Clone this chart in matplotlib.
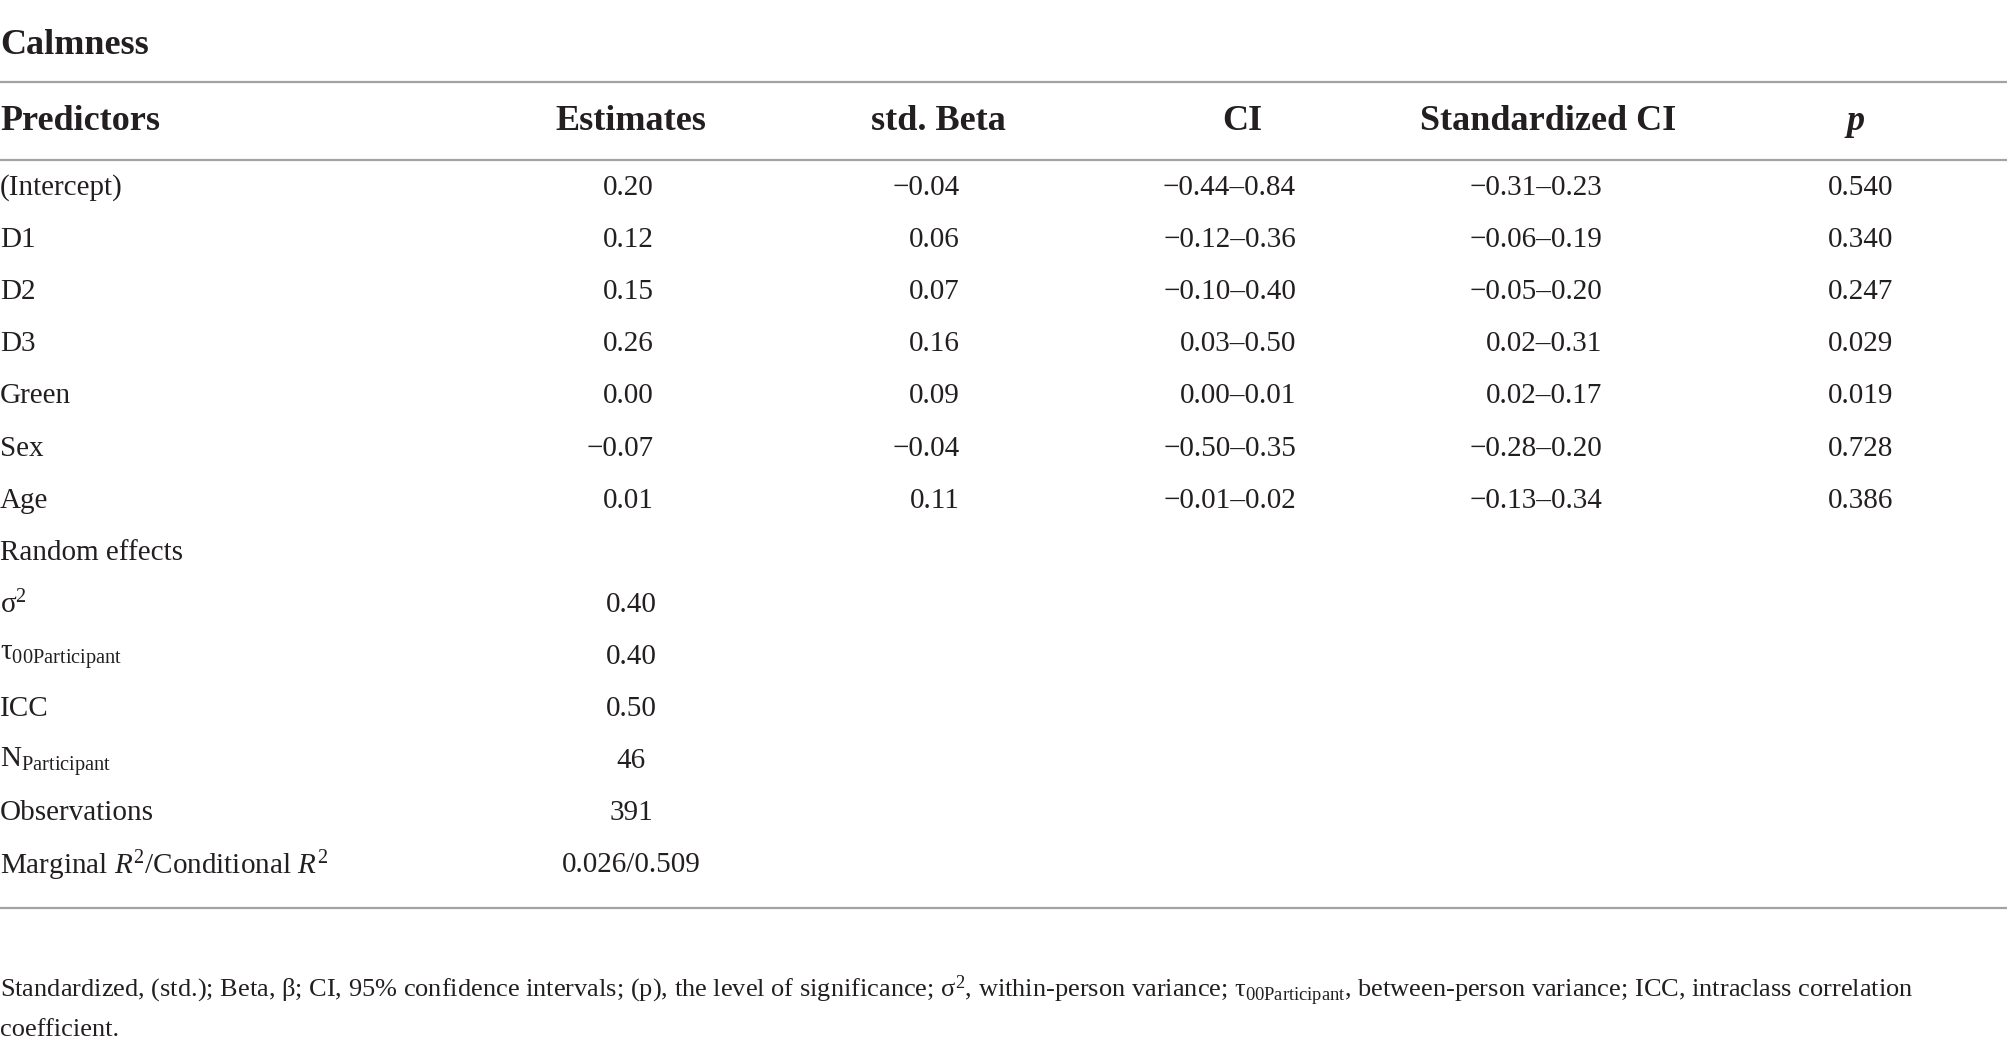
import matplotlib
matplotlib.use('Agg')
import matplotlib.pyplot as plt

plt.rcParams['font.family'] = ['Liberation Serif', 'DejaVu Serif']
plt.rcParams['mathtext.fontset'] = 'custom'
plt.rcParams['mathtext.rm'] = 'Liberation Serif'
plt.rcParams['mathtext.it'] = 'Liberation Serif:italic'
plt.rcParams['mathtext.bf'] = 'Liberation Serif:bold'

W, H = 2008, 1048
TXT = '#231f20'
RULE = '#a3a3a3'

title = 'Calmness'
headers = ['Predictors', 'Estimates', 'std. Beta', 'CI', 'Standardized CI', 'p']

predictors = ['(Intercept)', 'D1', 'D2', 'D3', 'Green', 'Sex', 'Age']
estimates = ['0.20', '0.12', '0.15', '0.26', '0.00', '\u22120.07', '0.01']
std_beta = ['\u22120.04', '0.06', '0.07', '0.16', '0.09', '\u22120.04', '0.11']
ci = ['\u22120.44\u20130.84', '\u22120.12\u20130.36', '\u22120.10\u20130.40', '0.03\u20130.50',
      '0.00\u20130.01', '\u22120.50\u20130.35', '\u22120.01\u20130.02']
std_ci = ['\u22120.31\u20130.23', '\u22120.06\u20130.19', '\u22120.05\u20130.20', '0.02\u20130.31',
          '0.02\u20130.17', '\u22120.28\u20130.20', '\u22120.13\u20130.34']
p_vals = ['0.540', '0.340', '0.247', '0.029', '0.019', '0.728', '0.386']

random_labels = ['Random effects', '$\\mathrm{\u03c3}^{2}$', '$\\mathrm{\u03c4}_{\\mathrm{00Participant}}$', 'ICC',
                 '$\\mathrm{N}_{\\mathrm{Participant}}$', 'Observations',
                 'Marginal $\\mathit{R}^{2}$/Conditional $\\mathit{R}^{2}$']
random_values = ['', '0.40', '0.40', '0.50', '46', '391', '0.026/0.509']

footnote = ['Standardized, (std.); Beta, \u03b2; CI, 95% confidence intervals; (p), the level of significance; '
            '$\\mathrm{\u03c3}^{2}$, within-person variance; $\\mathrm{\u03c4}_{\\mathrm{00Participant}}$, '
            'between-person variance; ICC, intraclass correlation',
            'coefficient.']

fig = plt.figure(figsize=(W / 100, H / 100), dpi=100)
ax = fig.add_axes([0, 0, 1, 1])
ax.set_xlim(0, W)
ax.set_ylim(H, 0)
ax.axis('off')

BODY = 21
BOLD = 26

ax.text(0, 45, title, fontsize=BOLD, fontweight='bold', color=TXT, va='center', ha='left')

for yy in [82, 160, 908]:
    ax.axhline(yy, color=RULE, lw=1.6)

# header row: (x, ha)
head_pos = [(0, 'left'), (631, 'center'), (938, 'center'), (1242, 'center'), (1548, 'center'), (1856, 'center')]
for (hx, ha), h in zip(head_pos, headers):
    style = 'italic' if h == 'p' else 'normal'
    ax.text(hx, 122, h, fontsize=BOLD, fontweight='bold', fontstyle=style,
            color=TXT, va='center', ha=ha)

row0, step = 188, 52.1
for i, name in enumerate(predictors):
    y = row0 + i * step
    ax.text(0, y, name, fontsize=BODY, color=TXT, va='center', ha='left')
    ax.text(654, y, estimates[i], fontsize=BODY, color=TXT, va='center', ha='right')
    ax.text(960, y, std_beta[i], fontsize=BODY, color=TXT, va='center', ha='right')
    ax.text(1296, y, ci[i], fontsize=BODY, color=TXT, va='center', ha='right')
    ax.text(1602, y, std_ci[i], fontsize=BODY, color=TXT, va='center', ha='right')
    ax.text(1861, y, p_vals[i], fontsize=BODY, color=TXT, va='center', ha='center')

for j, lab in enumerate(random_labels):
    y = row0 + (len(predictors) + j) * step
    ax.text(0, y, lab, fontsize=BODY, color=TXT, va='center', ha='left')
    ax.text(631, y, random_values[j], fontsize=BODY, color=TXT, va='center', ha='center')

for k, line in enumerate(footnote):
    ax.text(0, 991 + k * 39, line, fontsize=19, color=TXT, va='center', ha='left')

fig.savefig('out.png', dpi=100)
